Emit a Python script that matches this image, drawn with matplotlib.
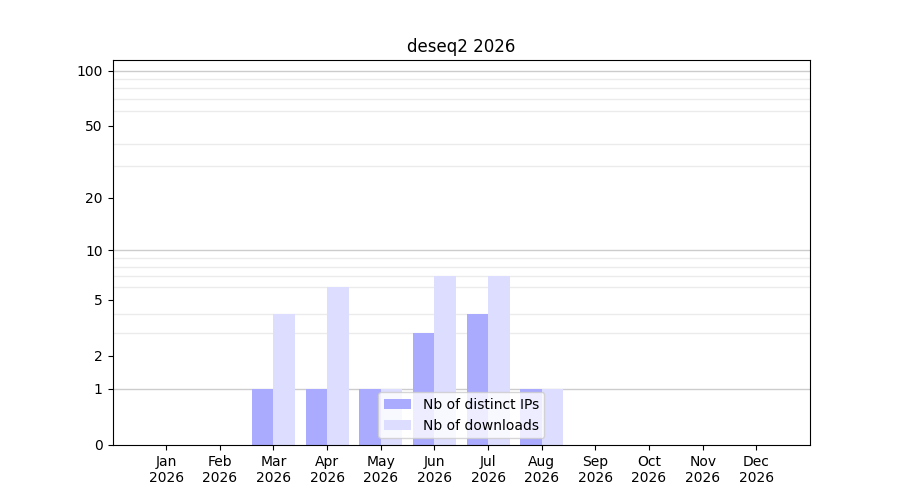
import numpy as np
import matplotlib
matplotlib.use("Agg")
import matplotlib.pyplot as plt

months = ["Jan", "Feb", "Mar", "Apr", "May", "Jun",
          "Jul", "Aug", "Sep", "Oct", "Nov", "Dec"]
year = 2026
distinct_ips = [0, 0, 1, 1, 1, 3, 4, 1, 0, 0, 0, 0]
downloads = [0, 0, 4, 6, 1, 7, 7, 1, 0, 0, 0, 0]
ytick_values = [0, 1, 2, 5, 10, 20, 50, 100]


def fwd(y):
    return np.log10(1 + np.clip(y, 0, None))


def inv(y):
    return 10 ** y - 1


fig, ax = plt.subplots(figsize=(9, 5), dpi=100)
x = np.arange(len(months))
w = 0.4
ax.bar(x - w / 2, distinct_ips, width=w, color="#aaaaff",
       label="Nb of distinct IPs", zorder=2)
ax.bar(x + w / 2, downloads, width=w, color="#ddddff",
       label="Nb of downloads", zorder=2)

ax.set_yscale("function", functions=(fwd, inv))
ax.set_ylim(0, 114)
ax.set_xlim(-1, 12)

ax.set_yticks(ytick_values)
ax.set_yticklabels([str(v) for v in ytick_values])
minor = list(range(2, 10)) + list(range(20, 101, 10))
ax.set_yticks(minor, minor=True)
ax.tick_params(axis="y", which="minor", length=0)
ax.grid(axis="y", which="minor", color="#ebebeb", linewidth=1, zorder=0)
for v in (1, 10, 100):
    ax.axhline(v, color="#cccccc", linewidth=1, zorder=1)

ax.set_xticks(x)
ax.set_xticklabels(["%s\n%d" % (m, year) for m in months])
ax.set_title("deseq2 %d" % year)
ax.legend(loc="lower center")

fig.savefig("out.png", dpi=100)
